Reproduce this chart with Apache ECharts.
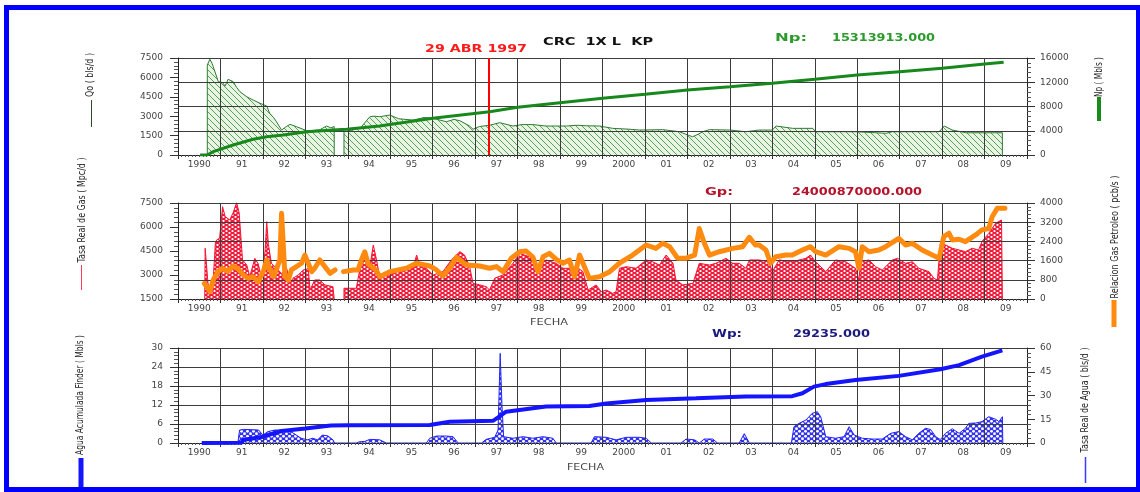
<!DOCTYPE html>
<html>
<head>
<meta charset="utf-8">
<script src="https://cdn.jsdelivr.net/npm/echarts@6/dist/echarts.min.js"></script>
<style>
  html, body { margin: 0; padding: 0; background: #ffffff; }
  #chart { width: 1140px; height: 492px; }
</style>
</head>
<body>
<div id="chart"></div>
<script>
// ---------------- data ----------------
const yearLabels = ['1990','91','92','93','94','95','96','97','98','99','2000','01','02','03','04','05','06','07','08','09'];

// Qo - oil rate (bls/d)
const oilYears = [1990.69,1990.69,1990.75,1990.80,1990.83,1990.95,1991.05,1991.11,1991.18,1991.30,1991.38,1991.46,1991.62,1991.77,1991.93,1992.09,1992.16,1992.25,1992.32,1992.44,1992.55,1992.64,1992.79,1993.03,1993.20,1993.34,1993.50,1993.60,1993.68,1993.68,1993.80,1993.91,1993.91,1994.10,1994.30,1994.52,1994.62,1994.75,1994.99,1995.20,1995.54,1995.80,1996.01,1996.32,1996.50,1996.64,1996.87,1996.95,1997.10,1997.34,1997.58,1997.89,1998.10,1998.36,1998.67,1999.15,1999.40,1999.62,1999.93,2000.24,2000.60,2000.87,2001.42,2001.81,2002.12,2002.25,2002.36,2002.52,2002.99,2003.38,2003.69,2004.00,2004.09,2004.48,2004.95,2005.03,2005.97,2006.68,2006.83,2007.93,2008.05,2008.24,2008.56,2009.42,2009.42];
const oilRate  = [0,6950,7400,7100,6830,5670,5600,5330,5850,5670,5230,4890,4500,4250,4000,3790,3220,2900,2570,1930,2200,2370,2190,1880,1900,1950,2240,2100,2200,0,null,0,1800,1930,2100,2960,3000,2960,3090,2800,2700,2900,2840,2570,2750,2650,2240,1990,2200,2300,2500,2240,2350,2350,2240,2240,2300,2260,2240,2060,2000,1930,1960,1800,1410,1600,1800,1960,1930,1800,1930,1930,2240,2060,2060,1800,1800,1680,1800,1800,2240,1930,1720,1720,0];

// Np - cumulative oil (Mbls)
const npYears  = [1990.52,1990.69,1990.83,1991.30,1991.77,1992.09,1992.48,1993.03,1993.66,1993.97,1994.75,1996.00,1997.34,1998.00,1999.00,2000.00,2001.00,2002.00,2003.00,2004.00,2005.00,2006.00,2007.00,2008.00,2009.00,2009.45];
const npValues = [0,0,550,1650,2590,3020,3300,3850,4130,4240,4790,6060,7150,7870,8630,9350,10010,10730,11270,11830,12490,13200,13750,14300,15010,15314];

// Gas rate (Mpc/d)
const gasYears = [1990.63,1990.64,1990.70,1990.74,1990.78,1990.83,1990.88,1990.91,1990.98,1991.05,1991.11,1991.22,1991.30,1991.38,1991.44,1991.52,1991.62,1991.69,1991.81,1991.89,1991.97,1992.05,1992.09,1992.13,1992.20,1992.32,1992.44,1992.56,1992.64,1992.71,1992.83,1992.95,1993.07,1993.11,1993.22,1993.34,1993.46,1993.65,1993.68,1993.68,1993.80,1993.91,1993.91,1994.20,1994.28,1994.40,1994.52,1994.60,1994.67,1994.75,1994.99,1995.22,1995.54,1995.62,1995.69,1995.85,1996.01,1996.24,1996.44,1996.64,1996.75,1996.87,1996.95,1997.11,1997.26,1997.34,1997.46,1997.66,1997.89,1998.05,1998.28,1998.52,1998.67,1998.91,1999.07,1999.22,1999.38,1999.54,1999.66,1999.85,1999.97,2000.09,2000.24,2000.32,2000.40,2000.56,2000.79,2001.03,2001.18,2001.34,2001.50,2001.66,2001.73,2001.89,2002.13,2002.28,2002.52,2002.67,2002.91,2003.07,2003.22,2003.38,2003.46,2003.69,2003.92,2004.00,2004.16,2004.47,2004.79,2004.90,2005.02,2005.26,2005.49,2005.73,2005.96,2006.04,2006.08,2006.28,2006.43,2006.59,2006.83,2006.95,2007.14,2007.30,2007.45,2007.69,2007.81,2007.89,2007.96,2008.08,2008.24,2008.40,2008.55,2008.71,2008.86,2008.94,2009.10,2009.26,2009.40,2009.42,2009.42];
const gasRate  = [1500,4670,2700,1600,1600,2690,5000,5190,5300,7270,6650,6440,6900,7520,6900,3940,3620,2890,4040,3700,2790,4460,6330,4900,3730,3420,3100,3420,2480,2800,3000,3310,3400,2060,2690,2690,2380,2270,2270,1500,null,1500,2170,2170,3310,4350,3520,4870,4040,2900,3000,3310,3420,4250,3650,3420,3000,3210,3940,4460,4250,3520,2480,2380,2270,2060,2800,3000,3730,4350,4140,3520,3940,3730,3420,3420,3520,3210,2060,2380,1960,2060,1850,1960,3420,3520,3420,3940,3830,3620,4250,3730,2690,2380,2480,3730,3620,3730,4040,3730,3730,3420,3940,3940,3830,3210,3940,3830,4040,4250,3830,3210,3940,3830,3420,2690,3830,3940,3520,3310,3940,4040,3730,3830,3420,3210,2790,2690,4980,4880,4670,4560,4460,4670,4560,5100,5600,6230,6440,6440,1500];

// Relacion gas petroleo (pcb/s)
const gorYears  = [1990.62,1990.68,1990.75,1990.83,1990.94,1991.05,1991.17,1991.30,1991.42,1991.54,1991.66,1991.77,1991.89,1992.01,1992.09,1992.17,1992.25,1992.32,1992.40,1992.44,1992.52,1992.60,1992.67,1992.79,1992.91,1992.99,1993.07,1993.15,1993.22,1993.34,1993.46,1993.58,1993.70,1993.80,1993.90,1994.13,1994.24,1994.32,1994.40,1994.48,1994.56,1994.67,1994.75,1994.99,1995.38,1995.62,1995.93,1996.09,1996.24,1996.40,1996.56,1996.79,1997.11,1997.34,1997.50,1997.66,1997.85,1998.05,1998.20,1998.36,1998.48,1998.60,1998.75,1998.91,1999.07,1999.22,1999.34,1999.46,1999.54,1999.69,1999.93,2000.17,2000.40,2000.71,2001.03,2001.26,2001.42,2001.58,2001.77,2001.97,2002.17,2002.28,2002.40,2002.52,2002.75,2003.07,2003.30,2003.46,2003.60,2003.69,2003.85,2003.96,2004.08,2004.32,2004.47,2004.71,2004.90,2005.02,2005.26,2005.57,2005.81,2005.96,2006.04,2006.12,2006.28,2006.51,2006.67,2006.98,2007.14,2007.30,2007.53,2007.77,2007.93,2008.04,2008.16,2008.24,2008.40,2008.55,2008.79,2008.94,2009.10,2009.18,2009.30,2009.48];
const gorValues = [650,510,300,790,1140,1280,1150,1375,1250,1000,860,930,720,1150,1625,1200,930,1250,1625,3570,930,790,1210,1350,1490,1830,1480,1140,1280,1625,1350,1070,1210,null,1140,1210,1210,1625,1970,1450,1350,1200,930,1140,1280,1490,1375,1210,960,1300,1740,1420,1375,1280,1350,1140,1700,1970,2000,1750,1140,1760,1900,1650,1490,1625,930,1830,1490,860,930,1140,1490,1830,2250,2110,2320,2180,1700,1700,1830,2940,2320,1830,1970,2110,2180,2570,2250,2250,2040,1490,1760,1830,1830,2040,2180,1970,1830,2180,2110,1970,1280,2180,1970,2040,2180,2530,2250,2320,2040,1830,1700,2600,2740,2460,2490,2390,2670,2880,2940,3430,3780,3780];

// Agua acumulada (Mbls)
const cwYears  = [1990.56,1991.50,1991.53,1992.00,1992.44,1993.00,1993.60,1994.00,1995.93,1996.40,1997.42,1997.54,1997.73,1998.67,1999.69,2000.09,2001.03,2002.20,2003.38,2004.47,2004.71,2004.98,2005.26,2005.96,2006.98,2007.96,2008.40,2008.94,2009.42];
const cwValues = [0,0.1,0.95,2.0,3.8,4.6,5.5,5.6,5.7,6.7,7.0,8.1,9.9,11.5,11.7,12.5,13.6,14.1,14.7,14.8,15.7,17.8,18.6,19.9,21.2,23.3,24.6,27.3,29.235];

// Tasa real de agua (bls/d)
const wrYears  = [1990.56,1991.41,1991.45,1991.55,1991.75,1991.90,1992.00,1992.12,1992.28,1992.50,1992.66,1992.90,1993.05,1993.17,1993.29,1993.40,1993.53,1993.65,1993.69,1994.20,1994.28,1994.40,1994.52,1994.75,1994.91,1995.85,1995.93,1996.09,1996.32,1996.48,1996.60,1997.15,1997.26,1997.46,1997.54,1997.59,1997.63,1997.67,1997.89,1998.13,1998.36,1998.60,1998.83,1998.91,1999.73,1999.81,2000.09,2000.32,2000.56,2000.87,2001.03,2001.15,2001.85,2001.97,2002.17,2002.28,2002.40,2002.60,2002.71,2003.22,2003.34,2003.46,2004.45,2004.51,2004.63,2004.79,2004.94,2005.06,2005.14,2005.26,2005.49,2005.69,2005.81,2005.93,2006.12,2006.36,2006.59,2006.79,2006.98,2007.14,2007.30,2007.45,2007.61,2007.73,2007.85,2007.96,2008.08,2008.24,2008.40,2008.55,2008.63,2008.79,2008.94,2009.10,2009.26,2009.34,2009.42,2009.43];
const wrValues = [0,0,8.2,8.6,8.4,8.2,5.0,7.2,8.2,8.2,7.2,3.0,2.0,3.0,2.0,5.0,4.5,2.0,0,0,0.8,1.0,2.3,2.0,0,0,3.0,4.4,4.4,4.0,0,0,2.3,3.6,8.2,56.6,25,4.0,3.0,4.0,3.0,4.0,3.0,0,0,4.0,3.6,2.0,3.6,3.6,3.0,0,0,2.5,2.0,0,2.5,2.5,0,0,5.9,0,0,10.3,12.4,14.5,18.7,19.8,16.6,4.0,3.0,4.0,10.3,5.0,3.0,2.5,2.5,6.1,7.2,4.0,2.0,6.1,9.3,8.5,4.0,2.1,6.1,9.0,6.1,9.3,12.4,12.6,13.5,16.6,15.0,13.5,16.6,0];

// Totals and event
const npTotal = '15313913.000';
const gpTotal = '24000870000.000';
const wpTotal = '29235.000';
const eventLabel = '29 ABR 1997';
const eventDate = 1997 + 119 / 365;

// ---------------- helpers ----------------
function pairs(xs, ys) {
  return xs.map((x, i) => [x, ys[i] === null ? '-' : ys[i]]);
}

function hatchPattern(bg, ink, s) {
  const c = document.createElement('canvas');
  c.width = s; c.height = s;
  const g = c.getContext('2d');
  g.fillStyle = bg; g.fillRect(0, 0, s, s);
  g.strokeStyle = ink; g.lineWidth = 1;
  g.beginPath();
  g.moveTo(-1, -1); g.lineTo(s + 1, s + 1);
  g.moveTo(-1, s - 1); g.lineTo(1, s + 1);
  g.moveTo(s - 1, -1); g.lineTo(s + 1, 1);
  g.stroke();
  return { image: c, repeat: 'repeat' };
}

function dotPattern(bg, dot, w, h, r) {
  const c = document.createElement('canvas');
  c.width = w; c.height = h;
  const g = c.getContext('2d');
  g.fillStyle = bg; g.fillRect(0, 0, w, h);
  g.fillStyle = dot;
  [[w / 4, h / 4], [3 * w / 4, 3 * h / 4]].forEach(([x, y]) => {
    g.beginPath(); g.arc(x, y, r, 0, Math.PI * 2); g.fill();
  });
  return { image: c, repeat: 'repeat' };
}

const measureCtx = document.createElement('canvas').getContext('2d');
function stretch(text, font, target) {
  measureCtx.font = font;
  return target / measureCtx.measureText(text).width;
}

// ---------------- layout ----------------
const GRID_LEFT = 178, GRID_W = 849;
const grids = [
  { left: GRID_LEFT, top: 58, width: GRID_W, height: 97 },
  { left: GRID_LEFT, top: 203, width: GRID_W, height: 96 },
  { left: GRID_LEFT, top: 348, width: GRID_W, height: 95 }
];

const TICK_FONT = 'DejaVu Sans';
const gridColor = '#3c3c3c';

function timeAxis(gi) {
  return {
    type: 'value', gridIndex: gi, min: 1990, max: 2010, interval: 1, position: 'bottom', z: 3,
    axisLine: { show: true, onZero: false, lineStyle: { color: '#222', width: 1 } },
    axisTick: { show: true, length: 4, lineStyle: { color: '#333' } },
    minorTick: { show: true, splitNumber: 12, length: 2, lineStyle: { color: '#555' } },
    axisLabel: { show: false },
    splitLine: { show: true, lineStyle: { color: gridColor, width: 1 } }
  };
}
function yearLabelAxis(gi) {
  return {
    type: 'category', gridIndex: gi, data: yearLabels, boundaryGap: true, position: 'bottom', z: 3,
    axisLine: { show: false }, axisTick: { show: false }, splitLine: { show: false },
    axisLabel: { interval: 0, margin: 5, fontSize: 9, color: '#444', fontFamily: TICK_FONT }
  };
}
function valueAxis(gi, pos, min, max, interval, grid) {
  return {
    type: 'value', gridIndex: gi, position: pos, min: min, max: max, interval: interval, z: 3,
    axisLine: { show: true, onZero: false, lineStyle: { color: '#222', width: 1 } },
    axisTick: { show: true, length: 8, lineStyle: { color: '#333' } },
    minorTick: { show: true, splitNumber: 5, length: 4, lineStyle: { color: '#555' } },
    axisLabel: { margin: pos === 'left' ? 15 : 13, fontSize: 9, color: '#444', fontFamily: TICK_FONT,
                 formatter: v => String(v) },
    splitLine: { show: grid, lineStyle: { color: gridColor, width: 1 } }
  };
}

// ---------------- decorations ----------------
const TITLE_FONT = 'bold 11px "DejaVu Sans"';
function titleText(str, x0, x1, y, color) {
  return {
    type: 'text', x: x0, y: y, scaleX: stretch(str, TITLE_FONT, x1 - x0), z: 50,
    style: { text: str, font: TITLE_FONT, fill: color, align: 'left', verticalAlign: 'middle',
             textAlign: 'left', textVerticalAlign: 'middle' }
  };
}
const NAME_FONT = '10px "DejaVu Sans"';
function axisName(str, cx, cy, len) {
  return {
    type: 'text', x: cx, y: cy, rotation: Math.PI / 2, scaleX: stretch(str, NAME_FONT, len), z: 50,
    style: { text: str, font: NAME_FONT, fill: '#1e1e1e', align: 'center', verticalAlign: 'middle',
             textAlign: 'center', textVerticalAlign: 'middle' }
  };
}
function keyLine(x, y1, y2, color, w) {
  return { type: 'line', z: 50, shape: { x1: x, y1: y1, x2: x, y2: y2 }, style: { stroke: color, lineWidth: w } };
}
function plainText(str, x0, x1, y) {
  const f = '9px "DejaVu Sans"';
  return {
    type: 'text', x: x0, y: y, scaleX: stretch(str, f, x1 - x0), z: 50,
    style: { text: str, font: f, fill: '#444', align: 'left', verticalAlign: 'middle',
             textAlign: 'left', textVerticalAlign: 'middle' }
  };
}

const graphics = [
  { type: 'rect', z: 60, shape: { x: 6.5, y: 7.5, width: 1132, height: 482 },
    style: { fill: 'none', stroke: '#0000ff', lineWidth: 5 } },
  titleText('CRC  1X L  KP', 543, 653, 42, '#111111'),
  titleText(eventLabel, 425, 527, 49, '#ff1a1a'),
  titleText('Np:', 775, 807, 38, '#2c9a2c'),
  titleText(npTotal, 832, 935, 38, '#2c9a2c'),
  titleText('Gp:', 705, 733, 192, '#b5122c'),
  titleText(gpTotal, 792, 922, 192, '#b5122c'),
  titleText('Wp:', 712, 742, 334, '#1b1b7e'),
  titleText(wpTotal, 793, 870, 334, '#1b1b7e'),

  axisName('Qo ( bls/d )', 90, 75, 44),
  keyLine(91.5, 100, 127, '#2d4a2d', 1),
  axisName('Np ( Mbls )', 1099, 77, 40),
  keyLine(1099, 97, 121, '#1a8a1a', 4),

  axisName('Tasa Real de Gas ( Mpc/d )', 82, 210, 105),
  keyLine(81.5, 265, 290, '#ff3a5a', 1),
  axisName('Relacion Gas Petroleo ( pcb/s )', 1115, 237, 123),
  keyLine(1114, 300, 327, '#ff8a10', 5),

  axisName('Agua Acumulada Finder ( Mbls )', 80, 395, 120),
  keyLine(81, 458, 492, '#1414ff', 5),
  axisName('Tasa Real de Agua ( bls/d )', 1085, 400, 105),
  keyLine(1085.5, 457, 483, '#3a3aff', 1.5),

  plainText('FECHA', 530, 568, 323),
  plainText('FECHA', 567, 604, 468)
];

// ---------------- chart ----------------
const chart = echarts.init(document.getElementById('chart'), null, { renderer: 'canvas', devicePixelRatio: 1 });

chart.setOption({
  animation: false,
  backgroundColor: '#ffffff',
  grid: grids,
  xAxis: [timeAxis(0), timeAxis(1), timeAxis(2), yearLabelAxis(0), yearLabelAxis(1), yearLabelAxis(2)],
  yAxis: [
    valueAxis(0, 'left', 0, 7500, 1500, false),
    valueAxis(0, 'right', 0, 16000, 4000, true),
    valueAxis(1, 'left', 1500, 7500, 1500, false),
    valueAxis(1, 'right', 0, 4000, 800, true),
    valueAxis(2, 'left', 0, 30, 6, true),
    valueAxis(2, 'right', 0, 60, 15, false)
  ],
  series: [
    {
      name: 'Qo', type: 'line', xAxisIndex: 0, yAxisIndex: 0, z: 1,
      data: pairs(oilYears, oilRate), showSymbol: false, connectNulls: false,
      lineStyle: { color: '#2f7a33', width: 1 },
      areaStyle: { color: hatchPattern('#e9f5e3', '#5aa05a', 6), opacity: 1, origin: 'start' }
    },
    {
      name: 'Np', type: 'line', xAxisIndex: 0, yAxisIndex: 1, z: 5,
      data: pairs(npYears, npValues), showSymbol: false,
      lineStyle: { color: '#17881c', width: 3 },
      markLine: {
        silent: true, symbol: 'none', label: { show: false },
        lineStyle: { color: '#ff0000', width: 2, type: 'solid' },
        data: [{ xAxis: eventDate }]
      }
    },
    {
      name: 'Gas', type: 'line', xAxisIndex: 1, yAxisIndex: 2, z: 1,
      data: pairs(gasYears, gasRate), showSymbol: false, connectNulls: false,
      lineStyle: { color: '#ff1030', width: 1 },
      areaStyle: { color: dotPattern('#ec1c3c', '#ffffff', 6, 4, 1.1), opacity: 1, origin: 'start' }
    },
    {
      name: 'RGP', type: 'line', xAxisIndex: 1, yAxisIndex: 3, z: 5,
      data: pairs(gorYears, gorValues), showSymbol: false, connectNulls: false,
      lineStyle: { color: '#ff8a10', width: 5, join: 'round', cap: 'round' }
    },
    {
      name: 'Agua', type: 'line', xAxisIndex: 2, yAxisIndex: 5, z: 1,
      data: pairs(wrYears, wrValues), showSymbol: false,
      lineStyle: { color: '#2222ff', width: 1 },
      areaStyle: { color: dotPattern('#3434f0', '#ffffff', 6, 5, 1.4), opacity: 1, origin: 'start' }
    },
    {
      name: 'Wp', type: 'line', xAxisIndex: 2, yAxisIndex: 4, z: 5,
      data: pairs(cwYears, cwValues), showSymbol: false,
      lineStyle: { color: '#1414ff', width: 4 }
    }
  ],
  graphic: { elements: graphics }
});
</script>
</body>
</html>
